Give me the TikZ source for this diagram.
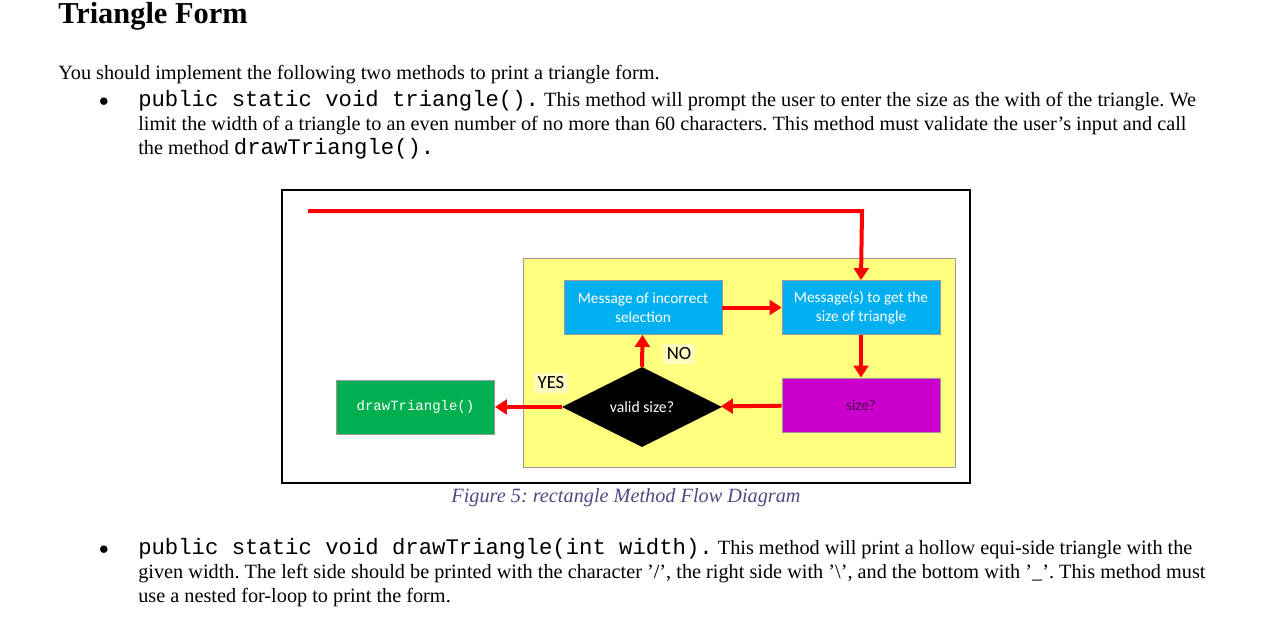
\documentclass[tikz,border=0pt]{standalone}
\usepackage{fontspec}
\setmainfont{Liberation Serif}
\setmonofont{Liberation Mono}
\newfontfamily\diag{Carlito}
\usetikzlibrary{shapes.geometric,arrows.meta}
\definecolor{cblue}{RGB}{0,176,240}
\definecolor{cgreen}{RGB}{0,176,80}
\definecolor{cmag}{RGB}{204,0,204}
\definecolor{cyel}{RGB}{255,255,128}
\newcommand{\codef}{\ttfamily\fontsize{16.7}{18}\selectfont}
\frenchspacing
\begin{document}
\begin{tikzpicture}[x=0.75pt,y=-0.75pt,
  txt/.style={anchor=base west,inner sep=0pt,font=\fontsize{15.2}{17}\selectfont},
  box/.style={draw=black!40,line width=0.6pt,minimum width=158*0.75pt,minimum height=54*0.75pt,inner sep=1pt,align=center,font=\diag\fontsize{11.5}{14}\selectfont},
  arr/.style={red,line width=3pt,-{Triangle[length=9pt,width=11pt]}},
  lab/.style={fill=yellow!25,inner sep=3pt,font=\diag\fontsize{14}{15}\selectfont}]
\useasboundingbox (0,0) rectangle (1284,631);
\fill[white] (0,0) rectangle (1284,631);
\node[anchor=base west,inner sep=0pt,font=\bfseries\fontsize{22.8}{24}\selectfont] (title) at (58,24) {Triangle Form};
\node[txt] (p1) at (58,80) {You should implement the following two methods to print a triangle form.};
\node[anchor=base,inner sep=0pt,font=\fontsize{14}{14}\selectfont] (b1) at (104,107) {$\bullet$};
\node[txt] (l1) at (138,107) {{\codef public static void triangle().} This method will prompt the user to enter the size as the with of the triangle. We};
\node[txt] (l2) at (138,131) {limit the width of a triangle to an even number of no more than 60 characters. This method must validate the user{\char"27}s input and call};
\node[txt] (l3) at (138,155) {the method {\codef drawTriangle().}};
\draw[line width=1.2pt] (282,190) rectangle (970,483);
\draw[fill=cyel,draw=black!40] (523,258) rectangle (955,467);
\node[box,fill=cblue,text=white] (m1) at (643,307.5) {Message of incorrect\\selection};
\node[box,fill=cblue,text=white] (m2) at (861,307.5) {Message(s) to get the\\size of triangle};
\node[box,fill=cmag,text=violet!60!black] (sz) at (861,405) {size?};
\node[box,fill=cgreen,text=white,font=\ttfamily\fontsize{10.5}{12}\selectfont] (dt) at (415.5,407) {drawTriangle()};
\node[diamond,fill=black,text=white,aspect=2,minimum width=160*0.75pt,minimum height=80*0.75pt,inner sep=0pt,font=\diag\fontsize{11.8}{13}\selectfont] (vs) at (642,407) {valid size?};
\node[lab] (yes) at (551,383) {YES};
\node[lab] (no) at (679,354) {NO};
\coordinate (st) at (308,211);
\draw[arr] (st) -- (862,211) -- (m2.north);
\draw[arr] (m1) -- (m2);
\draw[arr] (m2) -- (sz);
\draw[arr] (sz) -- (vs);
\draw[arr] (vs.west) -- (dt);
\draw[arr] (vs.north) -- (m1);
\node[anchor=base,inner sep=0pt,font=\itshape\fontsize{15.2}{17}\selectfont,text=blue!30!black!70] (cap) at (626,502) {Figure 5: rectangle Method Flow Diagram};
\node[anchor=base,inner sep=0pt,font=\fontsize{14}{14}\selectfont] (b2) at (104,554) {$\bullet$};
\node[txt] (l4) at (138,554) {{\codef public static void drawTriangle(int width).} This method will print a hollow equi-side triangle with the};
\node[txt] (l5) at (138,578) {given width. The left side should be printed with the character {\char"27}/{\char"27}, the right side with {\char"27}\textbackslash{\char"27}, and the bottom with {\char"27}\_{\char"27}. This method must};
\node[txt] (l6) at (138,602) {use a nested for-loop to print the form.};
\end{tikzpicture}
\end{document}
